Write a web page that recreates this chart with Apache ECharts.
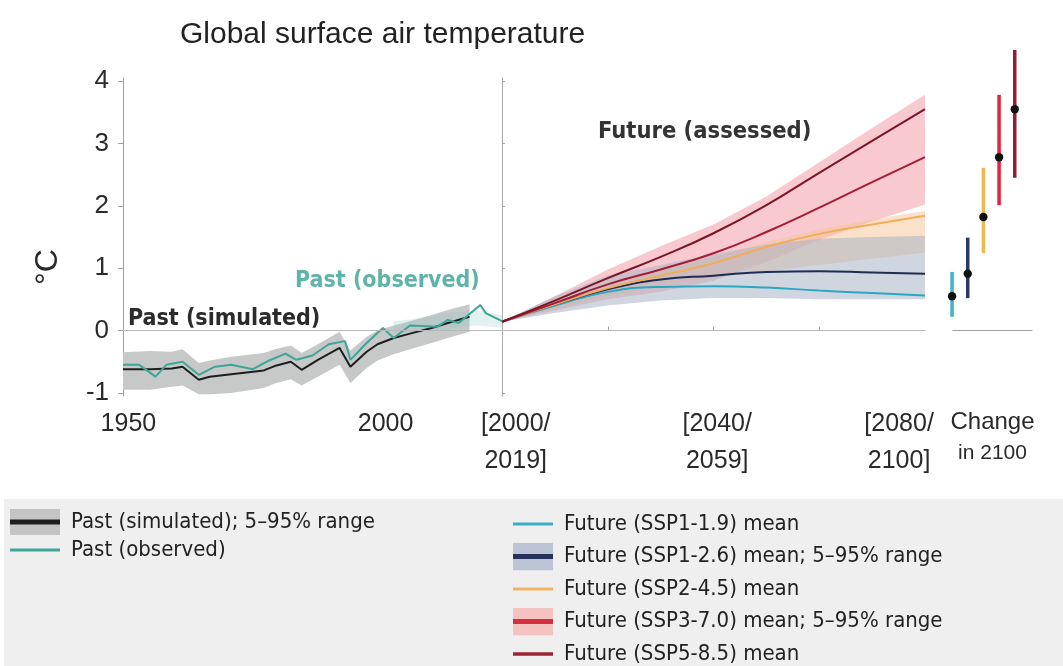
<!DOCTYPE html>
<html>
<head>
<meta charset="utf-8">
<title>Global surface air temperature</title>
<script src="https://cdn.jsdelivr.net/npm/echarts@6/dist/echarts.min.js"></script>
<style>
  html, body { margin: 0; padding: 0; background: #ffffff; }
  #chart { width: 1063px; height: 666px; }
</style>
</head>
<body>
<div id="chart"></div>
<script>
// past, simulated mean and its 5-95% range
const pastSimYears = [1950, 1955, 1959, 1961, 1964, 1966, 1970, 1976, 1978, 1981, 1983, 1986, 1990, 1992, 1995, 1997, 2000, 2003, 2007, 2010, 2014];
const pastSimMean = [-0.62, -0.62, -0.61, -0.58, -0.79, -0.74, -0.70, -0.64, -0.57, -0.50, -0.63, -0.47, -0.28, -0.58, -0.34, -0.22, -0.12, -0.05, 0.04, 0.12, 0.22];
const pastSimLow = [-0.95, -0.95, -0.90, -0.88, -1.02, -1.02, -1.00, -0.92, -0.85, -0.78, -0.88, -0.74, -0.55, -0.84, -0.60, -0.48, -0.38, -0.30, -0.20, -0.12, -0.02];
const pastSimHigh = [-0.35, -0.33, -0.34, -0.30, -0.52, -0.48, -0.42, -0.36, -0.30, -0.24, -0.36, -0.22, -0.02, -0.32, -0.10, 0.00, 0.08, 0.15, 0.25, 0.33, 0.42];

// past, observed
const obsYears = [1950, 1953, 1956, 1958, 1961, 1964, 1967, 1970, 1974, 1977, 1980, 1982, 1985, 1988, 1991, 1992, 1995, 1998, 2000, 2003, 2008, 2010, 2012, 2016, 2017, 2020];
const obsValues = [-0.55, -0.55, -0.74, -0.55, -0.50, -0.71, -0.58, -0.55, -0.62, -0.48, -0.37, -0.47, -0.40, -0.22, -0.17, -0.47, -0.20, 0.04, -0.12, 0.08, 0.06, 0.17, 0.12, 0.41, 0.28, 0.15];
const obsBandYears = [2000, 2005, 2010, 2015, 2020];
const obsBandLow = [-0.05, 0.00, 0.02, 0.08, 0.05];
const obsBandHigh = [0.15, 0.20, 0.28, 0.32, 0.25];

// future, assessed
const futureYears = [2020, 2030, 2040, 2050, 2060, 2070, 2080, 2090, 2100];
const ssp119 = [0.14, 0.40, 0.62, 0.70, 0.71, 0.69, 0.64, 0.60, 0.56];
const ssp126 = [0.14, 0.42, 0.66, 0.82, 0.88, 0.94, 0.95, 0.93, 0.91];
const ssp245 = [0.14, 0.42, 0.68, 0.88, 1.08, 1.34, 1.55, 1.70, 1.84];
const ssp370 = [0.14, 0.44, 0.74, 0.98, 1.24, 1.58, 1.97, 2.38, 2.78];
const ssp585 = [0.14, 0.48, 0.84, 1.18, 1.56, 2.01, 2.53, 3.04, 3.55];
const ssp126Low = [0.14, 0.28, 0.40, 0.48, 0.52, 0.52, 0.50, 0.50, 0.50];
const ssp126High = [0.14, 0.55, 0.88, 1.05, 1.22, 1.38, 1.47, 1.50, 1.52];
const ssp245Low = [0.14, 0.34, 0.55, 0.72, 0.85, 0.95, 1.05, 1.15, 1.25];
const ssp245High = [0.14, 0.44, 0.72, 0.95, 1.18, 1.42, 1.62, 1.78, 1.92];
const ssp370Low = [0.14, 0.32, 0.50, 0.62, 0.80, 1.10, 1.45, 1.75, 2.02];
const ssp370High = [0.14, 0.55, 0.98, 1.35, 1.70, 2.15, 2.70, 3.25, 3.78];

// change in 2100
const changeScenarios = ['SSP1-1.9', 'SSP1-2.6', 'SSP2-4.5', 'SSP3-7.0', 'SSP5-8.5'];
const changeMean = [0.55, 0.91, 1.82, 2.78, 3.55];
const changeLow = [0.22, 0.52, 1.24, 2.01, 2.45];
const changeHigh = [0.94, 1.49, 2.61, 3.78, 4.50];
const changeColors = ['#3db4c8', '#283a6a', '#eebb52', '#e2233d', '#961c36'];

// axis ticks
const yTicks = [-1, 0, 1, 2, 3, 4];
const pastTickYears = [1950, 2000];
const pastTickLabels = ['1950', '2000'];
const futureTickYears = [2020, 2060, 2100];
const futureTickLabels = ['[2000/\n2019]', '[2040/\n2059]', '[2080/\n2100]'];

const narrow = "'Liberation Sans Narrow', 'DejaVu Sans Condensed', sans-serif";
const arial = "'Liberation Sans', Arial, sans-serif";

const colors = {
  sim: '#1e1e1e', simBand: '#c6c9c7',
  obs: '#3fa597', obsBand: 'rgba(140,205,195,0.25)',
  s119: '#2aa8c2', s126: '#1f2c55', s245: '#f0ad5c', s370: '#a61d36', s585: '#7c1526',
  s126Band: 'rgba(170,180,198,0.55)', s245Band: 'rgba(247,196,150,0.5)', s370Band: 'rgba(244,170,178,0.62)'
};

const pairs = (xs, ys) => xs.map((x, i) => [x, ys[i]]);

// filled band between two edges, drawn as one polygon
function band(name, gi, years, low, high, fill, z) {
  return {
    name: name, type: 'custom', xAxisIndex: gi, yAxisIndex: gi, z: z, silent: true,
    data: years.map((y, i) => [y, low[i], high[i]]),
    encode: { x: 0, y: [1, 2] },
    renderItem: function (params, api) {
      if (params.dataIndex !== 0) return null;
      const pts = [];
      for (let i = 0; i < years.length; i++) pts.push(api.coord([years[i], high[i]]));
      for (let i = years.length - 1; i >= 0; i--) pts.push(api.coord([years[i], low[i]]));
      return { type: 'polygon', shape: { points: pts }, style: { fill: fill } };
    }
  };
}

function line(name, gi, xs, ys, color, width, smooth, z) {
  return {
    name: name, type: 'line', xAxisIndex: gi, yAxisIndex: gi,
    data: pairs(xs, ys), showSymbol: false, smooth: smooth || false, z: z || 3,
    lineStyle: { color: color, width: width || 2 }, itemStyle: { color: color },
    emphasis: { disabled: true }
  };
}

const zeroLine = {
  silent: true, symbol: ['none', 'none'], label: { show: false },
  lineStyle: { color: '#b8b8b8', type: 'solid', width: 1 }, data: [{ yAxis: 0 }]
};

// legend icons: a short line, optionally on a shaded box
function icon(w, h, lineColor, lineW, boxColor) {
  const iw = w - 6;
  let s = '<svg xmlns="http://www.w3.org/2000/svg" width="' + w + '" height="' + h + '">';
  if (boxColor) s += '<rect x="0" y="0" width="' + iw + '" height="' + h + '" fill="' + boxColor + '"/>';
  s += '<rect x="0" y="' + ((h - lineW) / 2) + '" width="' + iw + '" height="' + lineW + '" fill="' + lineColor + '"/>';
  s += '</svg>';
  return 'image://data:image/svg+xml;charset=utf-8,' + encodeURIComponent(s);
}

const gridTop = 78, gridH = 318;
const yAxisBase = { type: 'value', min: -1.05, max: 4.05, splitLine: { show: false } };

const option = {
  animation: false,
  title: {
    text: 'Global surface air temperature', left: 175, top: 15,
    textStyle: { fontFamily: arial, fontSize: 30, fontWeight: 'normal', color: '#222' }
  },
  grid: [
    { left: 123, top: gridTop, width: 379, height: gridH },
    { left: 502, top: gridTop, width: 423, height: gridH },
    { left: 953, top: gridTop, width: 79, height: gridH }
  ],
  xAxis: [
    {
      gridIndex: 0, type: 'value', min: 1950, max: 2020, splitLine: { show: false },
      axisLine: { lineStyle: { color: '#a0a0a0' } },
      axisTick: { inside: true, length: 4, customValues: pastTickYears, lineStyle: { color: '#a0a0a0' } },
      axisLabel: {
        customValues: [pastTickYears[0] + 1, pastTickYears[1] - 1.5],
        formatter: v => pastTickLabels[v < 1975 ? 0 : 1],
        fontFamily: arial, fontSize: 25, color: '#2a2a2a', margin: 10, lineHeight: 37
      }
    },
    {
      gridIndex: 1, type: 'value', min: 2020, max: 2100, splitLine: { show: false },
      axisLine: { lineStyle: { color: '#a0a0a0' } },
      axisTick: { inside: true, length: 4, customValues: [2040, 2060, 2080], lineStyle: { color: '#a0a0a0' } },
      axisLabel: {
        customValues: [futureTickYears[0] + 2.6, futureTickYears[1] + 0.7, futureTickYears[2] - 4.9],
        formatter: v => futureTickLabels[v < 2040 ? 0 : (v < 2080 ? 1 : 2)],
        fontFamily: arial, fontSize: 25, color: '#2a2a2a', margin: 10, lineHeight: 37
      }
    },
    {
      gridIndex: 2, type: 'value', min: 0.06, max: 5.1, splitLine: { show: false },
      axisLine: { lineStyle: { color: '#a0a0a0' } }, axisTick: { show: false }, axisLabel: { show: false },
      name: '{a|Change}\n{b|in 2100}', nameLocation: 'middle', nameGap: 10,
      nameTextStyle: {
        align: 'center', verticalAlign: 'top',
        rich: {
          a: { fontFamily: arial, fontSize: 24, color: '#2a2a2a', lineHeight: 32 },
          b: { fontFamily: arial, fontSize: 21, color: '#2a2a2a', lineHeight: 30 }
        }
      }
    }
  ],
  yAxis: [
    Object.assign({}, yAxisBase, {
      gridIndex: 0,
      axisLine: { show: true, lineStyle: { color: '#a0a0a0' } },
      axisTick: { show: true, length: 5, customValues: yTicks, lineStyle: { color: '#a0a0a0' } },
      axisLabel: { customValues: yTicks, fontFamily: arial, fontSize: 26, color: '#2a2a2a', margin: 14 }
    }),
    Object.assign({}, yAxisBase, {
      gridIndex: 1,
      axisLine: { show: true, lineStyle: { color: '#a8a8a8' } },
      axisTick: { show: true, inside: true, length: 3, customValues: yTicks, lineStyle: { color: '#a8a8a8' } },
      axisLabel: { show: false }
    }),
    Object.assign({}, yAxisBase, { gridIndex: 2, show: false })
  ],
  legend: [
    {
      left: 10, top: 509, height: 120, orient: 'vertical', padding: 0, itemGap: 2,
      itemWidth: 56, itemHeight: 26, selectedMode: false,
      textStyle: { fontFamily: narrow, fontSize: 22, color: '#222' },
      data: [
        { name: 'Past (simulated); 5–95% range', icon: icon(56, 26, colors.sim, 5, '#c4c4c4') },
        { name: 'Past (observed)', icon: icon(56, 26, colors.obs, 3) }
      ]
    },
    {
      left: 513, top: 510, height: 200, orient: 'vertical', padding: 0, itemGap: 4.5,
      itemWidth: 46, itemHeight: 28, selectedMode: false,
      textStyle: { fontFamily: narrow, fontSize: 22, color: '#222' },
      data: [
        { name: 'Future (SSP1-1.9) mean', icon: icon(46, 28, '#3aaec6', 3) },
        { name: 'Future (SSP1-2.6) mean; 5–95% range', icon: icon(46, 28, '#27325a', 5, '#bcc3d4') },
        { name: 'Future (SSP2-4.5) mean', icon: icon(46, 28, '#f0b665', 3) },
        { name: 'Future (SSP3-7.0) mean; 5–95% range', icon: icon(46, 28, '#d5303e', 5, '#f4c2c0') },
        { name: 'Future (SSP5-8.5) mean', icon: icon(46, 28, '#9b2632', 3.5) }
      ]
    }
  ],
  graphic: [
    { type: 'rect', left: 4, top: 499, shape: { width: 1059, height: 167 }, style: { fill: '#efefef' }, z: -10 },
    { type: 'text', x: 48, y: 267, rotation: Math.PI / 2, style: { text: '°C', font: '32px ' + arial, fill: '#2a2a2a', textAlign: 'center', textVerticalAlign: 'middle' } },
    { type: 'text', x: 128, y: 319, style: { text: 'Past (simulated)', font: 'bold 23px ' + narrow, fill: '#2b2b2b', textVerticalAlign: 'middle' }, z: 10 },
    { type: 'text', x: 295, y: 281, style: { text: 'Past (observed)', font: 'bold 23px ' + narrow, fill: '#5db4a7', textVerticalAlign: 'middle' }, z: 10 },
    { type: 'text', x: 598, y: 132, style: { text: 'Future (assessed)', font: 'bold 23.5px ' + narrow, fill: '#333', textVerticalAlign: 'middle' }, z: 10 }
  ],
  series: [
    band('past-band', 0, pastSimYears, pastSimLow, pastSimHigh, colors.simBand, 1),
    band('obs-band', 0, obsBandYears, obsBandLow, obsBandHigh, colors.obsBand, 1),
    Object.assign(line('Past (simulated); 5–95% range', 0, pastSimYears, pastSimMean, colors.sim, 2), { markLine: zeroLine }),
    line('Past (observed)', 0, obsYears, obsValues, colors.obs, 2, false, 4),

    band('ssp370-band', 1, futureYears, ssp370Low, ssp370High, colors.s370Band, 1),
    band('ssp245-band', 1, futureYears, ssp245Low, ssp245High, colors.s245Band, 1),
    band('ssp126-band', 1, futureYears, ssp126Low, ssp126High, colors.s126Band, 2),
    Object.assign(line('Future (SSP1-1.9) mean', 1, futureYears, ssp119, colors.s119, 2, 0.5), { markLine: zeroLine }),
    line('Future (SSP1-2.6) mean; 5–95% range', 1, futureYears, ssp126, colors.s126, 2, 0.5),
    line('Future (SSP2-4.5) mean', 1, futureYears, ssp245, colors.s245, 2, 0.5),
    line('Future (SSP3-7.0) mean; 5–95% range', 1, futureYears, ssp370, colors.s370, 2, 0.5),
    line('Future (SSP5-8.5) mean', 1, futureYears, ssp585, colors.s585, 2, 0.5),

    {
      name: 'change-2100', type: 'custom', xAxisIndex: 2, yAxisIndex: 2, clip: false, silent: true,
      data: changeScenarios.map((s, i) => [i, changeLow[i], changeHigh[i], changeMean[i]]),
      encode: { x: 0, y: [1, 2, 3] },
      renderItem: function (params, api) {
        const i = api.value(0);
        const lo = api.coord([i, api.value(1)]);
        const hi = api.coord([i, api.value(2)]);
        const mid = api.coord([i, api.value(3)]);
        return {
          type: 'group', children: [
            { type: 'line', shape: { x1: lo[0], y1: lo[1], x2: hi[0], y2: hi[1] }, style: { stroke: changeColors[i], lineWidth: 3.5 } },
            { type: 'circle', shape: { cx: mid[0], cy: mid[1], r: 4.2 }, style: { fill: '#111' } }
          ]
        };
      }
    }
  ]
};

const myChart = echarts.init(document.getElementById('chart'));
myChart.setOption(option);
</script>
</body>
</html>
